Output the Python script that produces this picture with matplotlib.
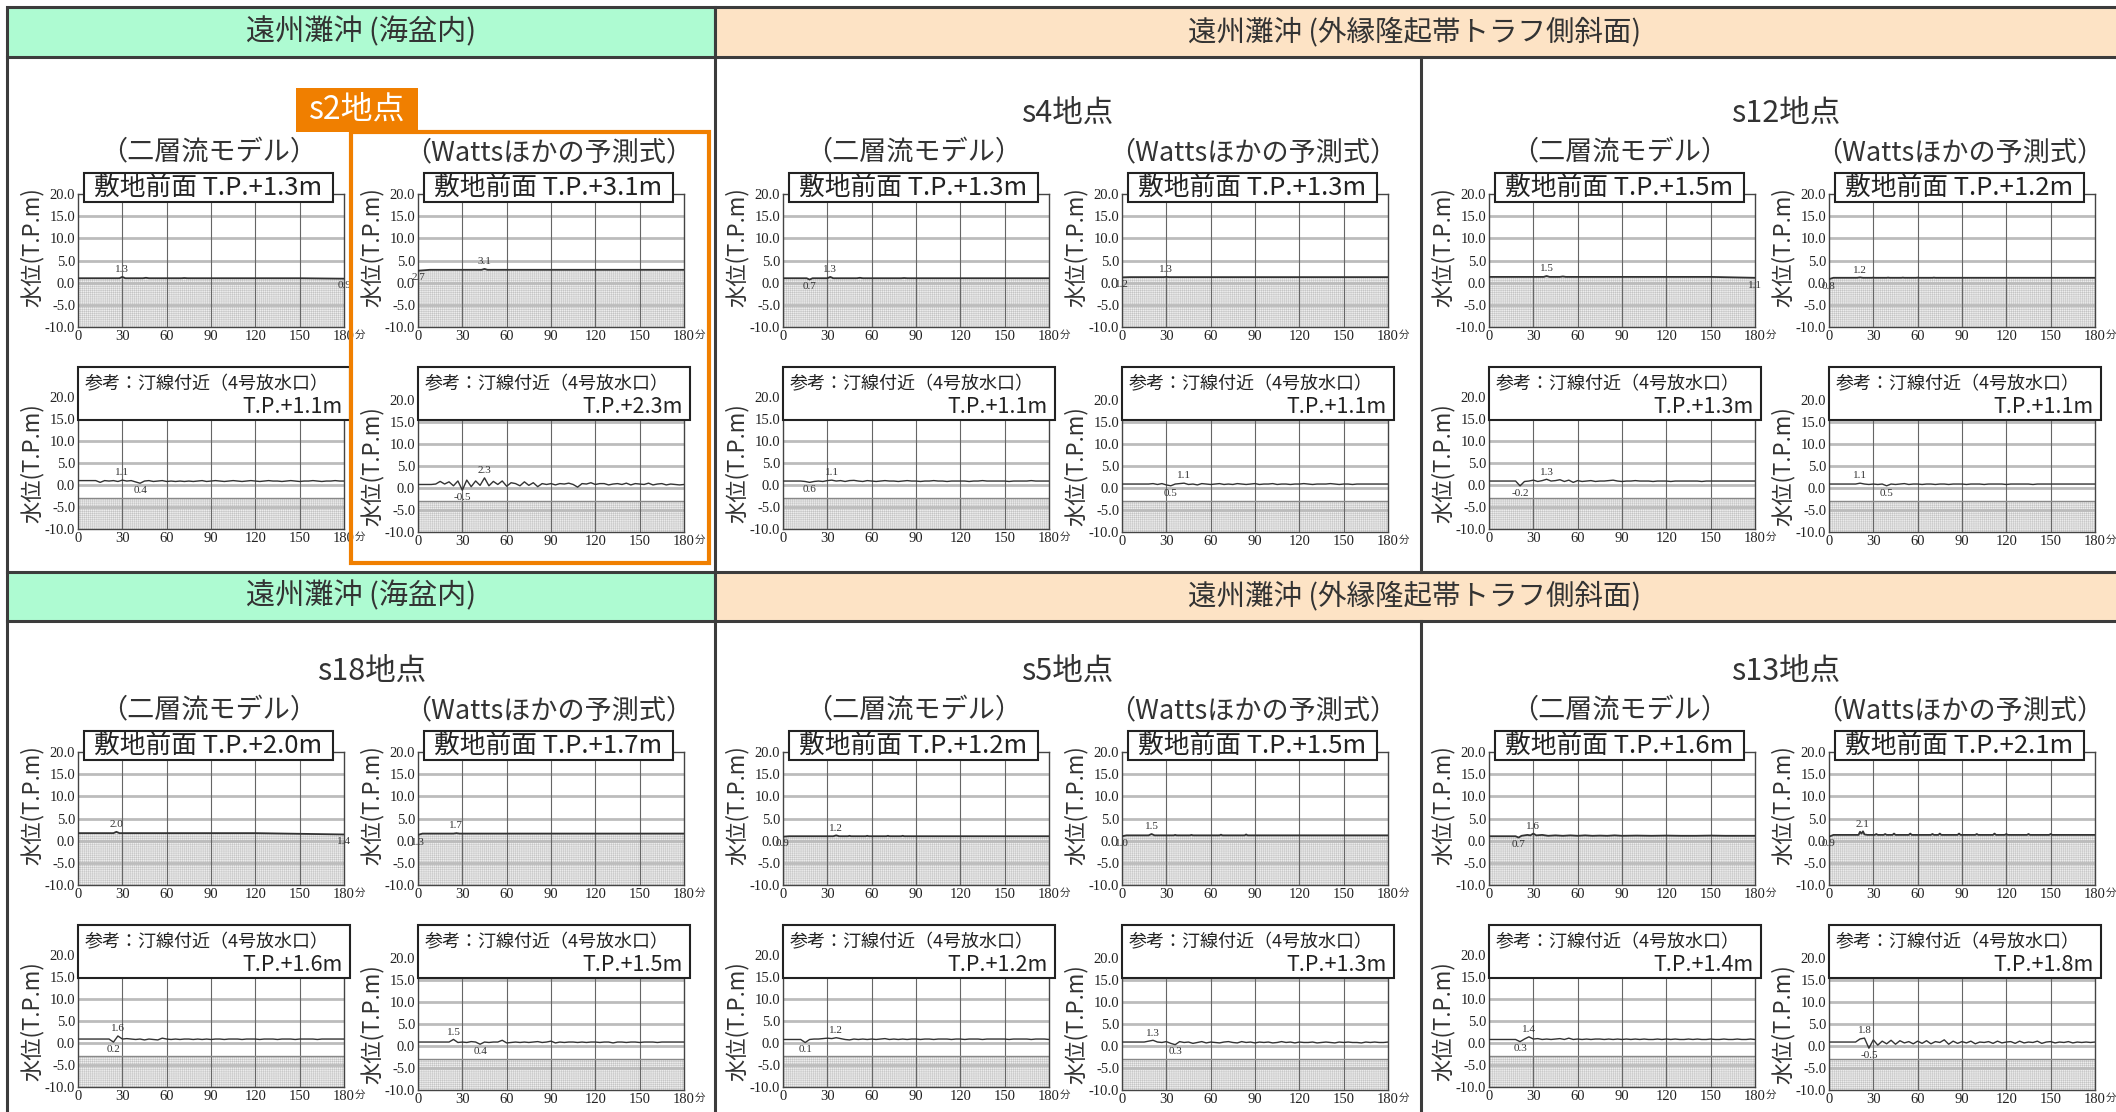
import numpy as np
import matplotlib.pyplot as plt
from matplotlib.patches import Rectangle

plt.rcParams['font.family'] = ['Noto Sans CJK JP', 'DejaVu Sans']
plt.rcParams['axes.unicode_minus'] = False
plt.rcParams['hatch.linewidth'] = 0.35

W, H = 2116, 1112

# ---- data ---------------------------------------------------------------
region_titles = ['遠州灘沖 (海盆内)', '遠州灘沖 (外縁隆起帯トラフ側斜面)']
sites = [['s2', 's4', 's12'], ['s18', 's5', 's13']]
models = ['（二層流モデル）', '（Wattsほかの予測式）']
front_name = '敷地前面'
shore_name = '参考：汀線付近（4号放水口）'

# 敷地前面 records (minutes, T.P. m)
s2_front_tl_t = [0, 20, 28, 30, 32, 44, 46, 48, 70, 72, 74, 150, 180]
s2_front_tl_v = [1.0, 1.0, 1.0, 1.3, 1.0, 1.0, 1.1, 1.0, 1.0, 1.05, 1.0, 1.0, 0.9]
s2_front_wt_t = [0, 8, 43, 45, 47, 180]
s2_front_wt_v = [2.7, 2.9, 2.9, 3.1, 2.9, 2.9]
s4_front_tl_t = [0, 16, 18, 20, 30, 32, 34, 50, 52, 54, 80, 82, 84, 180]
s4_front_tl_v = [1.0, 1.0, 0.7, 1.0, 1.0, 1.3, 1.0, 1.0, 1.1, 1.0, 1.0, 1.05, 1.0, 1.0]
s4_front_wt_t = [0, 5, 28, 30, 32, 180]
s4_front_wt_v = [1.2, 1.25, 1.25, 1.3, 1.25, 1.25]
s12_front_tl_t = [0, 37, 39, 41, 48, 50, 52, 150, 180]
s12_front_tl_v = [1.3, 1.3, 1.5, 1.3, 1.3, 1.4, 1.3, 1.3, 1.1]
s12_front_wt_t = [0, 3, 19, 21, 23, 29, 30, 31, 39, 40, 41, 49, 50, 51, 59, 60, 61, 70, 71, 72, 180]
s12_front_wt_v = [0.8, 1.1, 1.1, 1.2, 1.1, 1.1, 1.15, 1.1, 1.1, 1.15, 1.1,
                  1.1, 1.15, 1.1, 1.1, 1.15, 1.1, 1.1, 1.15, 1.1, 1.1]
s18_front_tl_t = [0, 24, 26, 28, 120, 180]
s18_front_tl_v = [1.7, 1.7, 2.0, 1.7, 1.7, 1.4]
s18_front_wt_t = [0, 3, 24, 26, 28, 180]
s18_front_wt_v = [1.3, 1.6, 1.6, 1.7, 1.6, 1.6]
s5_front_tl_t = [0, 4, 34, 36, 38, 44, 45, 46, 56, 57, 58, 70, 71, 72, 80, 81, 82, 180]
s5_front_tl_v = [0.9, 1.0, 1.0, 1.2, 1.0, 1.0, 1.1, 1.0, 1.0, 1.1, 1.0, 1.0, 1.1, 1.0, 1.0, 1.1, 1.0, 1.0]
s5_front_wt_t = [0, 3, 18, 20, 22, 35, 36, 37, 46, 47, 48, 66, 67, 68, 83, 84, 85, 180]
s5_front_wt_v = [1.0, 1.2, 1.2, 1.5, 1.2, 1.2, 1.3, 1.2, 1.2, 1.3, 1.2, 1.2, 1.35, 1.2, 1.2, 1.4, 1.2, 1.2]
s13_front_tl_t = [0, 18, 20, 22, 26, 28, 30, 32, 36, 40, 45, 50, 55, 60, 65, 70, 75,
                  80, 85, 90, 100, 110, 120, 130, 140, 150, 160, 170, 180]
s13_front_tl_v = [1.0, 1.0, 0.7, 1.1, 1.3, 1.2, 1.6, 1.2, 1.3, 1.1, 1.2, 1.1, 1.2, 1.1, 1.2,
                  1.1, 1.15, 1.1, 1.2, 1.1, 1.15, 1.1, 1.15, 1.1, 1.1, 1.15, 1.1, 1.1, 1.1]
s13_front_wt_t = [0, 3, 20, 21, 22, 23, 24, 26, 31, 32, 33, 37, 38, 39, 43, 44, 45,
                  54, 55, 56, 69, 70, 71, 74, 75, 76, 87, 88, 89, 99, 100, 101,
                  111, 112, 113, 119, 120, 121, 134, 135, 136, 149, 150, 151, 180]
s13_front_wt_v = [0.9, 1.3, 1.3, 2.0, 1.6, 2.1, 1.4, 1.3,
                  1.3, 1.5, 1.3, 1.3, 1.5, 1.3, 1.3, 1.6, 1.3,
                  1.3, 1.6, 1.3, 1.3, 1.5, 1.3, 1.3, 1.6, 1.3,
                  1.3, 1.6, 1.3, 1.3, 1.5, 1.3, 1.3, 1.6, 1.3,
                  1.3, 1.5, 1.3, 1.3, 1.5, 1.3, 1.3, 1.5, 1.3, 1.3]

# 汀線付近 records, read every 3 minutes from 0 to 180
t_shore = np.arange(0, 181, 3)
s2_shore_tl = [1.0, 1.0, 1.0, 1.0, 1.0, 0.6, 1.0, 0.9, 1.0, 0.8,
               1.1, 0.9, 1.0, 0.7, 0.4, 0.9, 1.0, 0.8, 0.9, 1.0,
               0.8, 0.9, 0.8, 0.9, 0.8, 0.9, 0.8, 0.9, 1.0, 0.8,
               0.9, 1.0, 0.9, 0.8, 0.9, 1.0, 0.9, 0.8, 0.9, 1.0,
               0.9, 0.8, 0.9, 1.0, 0.9, 0.9, 0.8, 0.9, 1.0, 0.9,
               0.8, 0.9, 0.9, 1.0, 0.9, 0.8, 0.9, 0.9, 1.0, 0.9, 0.9]
s2_shore_wt = [0.8, 0.8, 0.8, 0.8, 0.9, 1.5, 0.9, 1.4, 0.5, 1.6,
               -0.5, 1.8, 0.3, 1.6, 0.6, 2.3, 0.5, 1.5, 0.8, 1.6,
               0.4, 1.2, 1.0, 0.5, 1.4, 0.6, 1.2, 0.3, 1.0, 0.8,
               1.0, 0.7, 1.0, 0.9, 1.1, 0.8, 0.2, 1.0, 0.9, 1.2,
               0.8, 1.0, 1.0, 0.7, 0.9, 1.0, 0.8, 1.1, 0.7, 1.0,
               0.9, 0.8, 1.1, 0.7, 0.9, 1.0, 0.7, 0.9, 0.8, 0.7, 0.8]
s4_shore_tl = [0.9, 0.9, 0.9, 0.9, 0.9, 0.8, 0.6, 0.8, 0.9, 0.8,
               1.0, 1.1, 0.9, 1.0, 0.8, 1.0, 1.05, 0.9, 0.8, 1.0,
               0.9, 0.8, 0.9, 1.0, 0.9, 0.9, 0.8, 0.9, 1.0, 0.9,
               0.9, 0.8, 0.9, 0.9, 1.0, 0.9, 0.9, 0.8, 0.9, 0.9,
               0.9, 0.9, 0.8, 0.9, 0.9, 1.0, 0.9, 0.9, 0.9, 0.9,
               0.9, 0.8, 0.9, 0.9, 0.9, 0.9, 1.0, 0.9, 0.9, 0.9, 0.9]
s4_shore_wt = [0.9, 0.9, 0.9, 0.9, 0.9, 0.9, 0.9, 1.0, 0.8, 1.0,
               0.7, 0.5, 0.9, 1.0, 1.1, 0.8, 0.9, 0.7, 1.0, 0.9,
               0.8, 0.9, 1.0, 0.8, 0.9, 0.8, 1.0, 0.9, 0.8, 0.9,
               1.0, 0.8, 0.9, 0.9, 1.0, 0.8, 0.9, 0.9, 0.8, 0.9,
               0.9, 1.0, 0.9, 0.8, 0.9, 0.9, 0.9, 1.0, 0.9, 0.8,
               0.9, 0.9, 0.8, 0.9, 0.9, 0.9, 0.9, 0.9, 0.9, 0.9, 0.9]
s12_shore_tl = [0.9, 0.9, 0.9, 0.9, 0.9, 0.9, 0.9, -0.2, 0.8, 0.9,
                1.1, 0.8, 1.0, 1.3, 0.9, 1.0, 1.2, 0.8, 1.1, 0.6,
                1.0, 0.8, 0.9, 1.0, 0.8, 0.9, 0.9, 1.0, 1.1, 0.9,
                0.8, 0.9, 0.9, 1.0, 0.9, 0.9, 0.9, 0.8, 0.9, 0.9,
                0.9, 0.8, 0.9, 0.9, 0.9, 0.9, 0.9, 0.9, 0.8, 0.9,
                0.9, 0.9, 0.9, 0.9, 0.9, 0.9, 0.9, 0.9, 0.9, 0.9, 0.9]
s12_shore_wt = [0.9, 0.9, 0.9, 0.9, 0.9, 0.9, 0.9, 1.1, 0.9, 0.8,
                0.9, 0.8, 0.9, 0.5, 0.9, 0.8, 0.9, 1.0, 0.8, 0.9,
                0.9, 0.8, 0.9, 0.9, 0.8, 0.9, 0.9, 0.8, 0.9, 0.9,
                0.9, 0.8, 0.9, 0.9, 0.9, 0.8, 0.9, 0.9, 0.9, 0.9,
                0.8, 0.9, 0.9, 0.9, 0.9, 0.9, 0.8, 0.9, 0.9, 0.9,
                0.9, 0.9, 0.9, 0.9, 0.9, 0.9, 0.9, 0.9, 0.9, 0.9, 0.9]
s18_shore_tl = [0.9, 0.9, 0.9, 0.9, 0.9, 0.9, 0.9, 0.9, 0.2, 1.6,
                0.9, 1.0, 0.9, 0.8, 0.9, 0.7, 0.9, 0.8, 0.7, 1.1,
                0.9, 0.8, 0.9, 0.8, 0.9, 0.9, 0.8, 0.9, 0.8, 0.9,
                0.8, 0.9, 0.9, 0.8, 0.9, 0.9, 0.9, 0.8, 0.9, 0.9,
                0.9, 0.8, 0.9, 0.9, 0.9, 0.8, 0.9, 0.9, 0.9, 0.8,
                0.9, 0.9, 0.9, 0.9, 0.8, 0.9, 0.9, 0.9, 0.9, 0.9, 0.9]
s18_shore_wt = [0.9, 0.9, 0.9, 0.9, 0.9, 0.9, 0.9, 0.9, 1.5, 0.8,
                0.9, 0.8, 1.0, 0.9, 0.4, 0.9, 0.8, 0.9, 0.9, 1.3,
                0.7, 0.8, 0.9, 0.8, 0.9, 0.8, 0.9, 1.0, 0.8, 0.9,
                1.1, 0.7, 0.9, 0.8, 0.9, 0.9, 0.8, 0.9, 0.8, 0.9,
                0.9, 0.8, 0.9, 0.9, 0.7, 0.9, 0.9, 0.8, 0.9, 0.9,
                0.8, 0.9, 0.9, 0.9, 0.8, 0.9, 0.9, 0.9, 0.9, 0.9, 0.9]
s5_shore_tl = [0.8, 0.8, 0.8, 0.8, 0.8, 0.1, 0.8, 0.9, 0.9, 1.0,
               1.1, 1.0, 1.2, 1.0, 0.8, 0.7, 0.9, 0.8, 0.9, 0.8,
               0.9, 0.8, 0.9, 1.0, 0.8, 0.9, 0.8, 0.9, 0.8, 0.9,
               0.9, 0.8, 0.9, 0.9, 0.8, 0.9, 0.9, 0.9, 0.8, 0.9,
               0.9, 0.8, 0.9, 0.9, 0.9, 0.8, 0.9, 0.9, 0.9, 0.9,
               0.9, 0.8, 0.9, 0.9, 0.9, 0.9, 0.8, 0.9, 0.9, 0.9, 0.8]
s5_shore_wt = [0.9, 0.9, 0.9, 0.9, 0.9, 0.9, 1.1, 1.3, 0.9, 0.8,
               1.0, 0.6, 0.3, 1.0, 0.8, 0.9, 0.6, 0.8, 1.0, 0.7,
               0.9, 0.8, 0.7, 0.9, 1.0, 0.8, 0.7, 1.0, 0.8, 0.9,
               0.7, 0.9, 0.8, 0.9, 0.7, 0.8, 1.0, 0.8, 0.9, 0.7,
               0.9, 0.8, 0.8, 0.9, 0.7, 0.8, 0.9, 0.8, 0.7, 0.9,
               0.8, 0.9, 0.8, 0.8, 0.7, 0.9, 0.8, 0.9, 0.8, 0.8, 0.9]
s13_shore_tl = [0.8, 0.8, 0.8, 0.8, 0.8, 0.8, 0.8, 0.3, 0.9, 1.4,
                0.9, 1.0, 0.8, 0.9, 0.8, 0.9, 1.0, 0.8, 1.1, 0.8,
                0.9, 0.8, 0.9, 0.8, 0.9, 0.9, 0.8, 0.9, 0.8, 0.9,
                0.8, 0.9, 0.8, 0.9, 0.8, 0.9, 0.8, 0.8, 0.9, 0.8,
                0.9, 0.8, 0.9, 0.8, 0.8, 0.9, 0.8, 0.9, 0.8, 0.8,
                0.9, 0.8, 0.8, 0.9, 0.8, 0.8, 0.9, 0.8, 0.8, 0.9, 0.8]
s13_shore_wt = [0.9, 0.9, 0.9, 0.9, 0.9, 0.9, 0.9, 1.6, 1.8, -0.5,
                1.4, 0.2, 1.1, 0.5, 1.3, 0.4, 1.2, 0.7, 1.0, 0.5,
                1.1, 0.6, 1.2, 0.5, 1.0, 0.8, 1.4, 0.4, 1.1, 0.6,
                1.0, 0.7, 1.1, 0.5, 0.9, 0.8, 1.0, 0.6, 1.1, 0.7,
                0.9, 1.0, 0.6, 1.1, 0.7, 0.9, 0.8, 1.1, 0.6, 0.9,
                1.0, 0.7, 0.9, 0.8, 1.0, 0.7, 0.9, 0.8, 0.9, 0.8, 0.9]

shore_floor = -3.0  # top of hatched zone in the shoreline plots

front = {
    's2': [(s2_front_tl_t, s2_front_tl_v), (s2_front_wt_t, s2_front_wt_v)],
    's4': [(s4_front_tl_t, s4_front_tl_v), (s4_front_wt_t, s4_front_wt_v)],
    's12': [(s12_front_tl_t, s12_front_tl_v), (s12_front_wt_t, s12_front_wt_v)],
    's18': [(s18_front_tl_t, s18_front_tl_v), (s18_front_wt_t, s18_front_wt_v)],
    's5': [(s5_front_tl_t, s5_front_tl_v), (s5_front_wt_t, s5_front_wt_v)],
    's13': [(s13_front_tl_t, s13_front_tl_v), (s13_front_wt_t, s13_front_wt_v)],
}
shore = {
    's2': [s2_shore_tl, s2_shore_wt], 's4': [s4_shore_tl, s4_shore_wt],
    's12': [s12_shore_tl, s12_shore_wt], 's18': [s18_shore_tl, s18_shore_wt],
    's5': [s5_shore_tl, s5_shore_wt], 's13': [s13_shore_tl, s13_shore_wt],
}

# ---- layout (pixels) -----------------------------------------------------
col_left = [[78, 418], [783, 1122], [1489, 1829]]
ax_w = 266
row_dy = [0, 558]
header_y = [(7, 57), (572, 621)]
group_cx = [372, 1067, 1786]
LINE = '#3c3c3c'
SERIF = 'Liberation Serif'
ORANGE = '#f07f00'
SHADE = '#ededed'
HATCH = '#c4c4c4'


def px(x0, y0, x1, y1):
    return [x0 / W, 1 - y1 / H, (x1 - x0) / W, (y1 - y0) / H]


fig = plt.figure(figsize=(W / 100, H / 100), dpi=100)
bg = fig.add_axes([0, 0, 1, 1])
bg.set_xlim(0, W)
bg.set_ylim(H, 0)
bg.axis('off')

# region headers and frame
for r in range(2):
    y0, y1 = header_y[r]
    bg.add_patch(Rectangle((7, y0), 708, y1 - y0, facecolor='#aefbd2', edgecolor=LINE, lw=2.2))
    bg.add_patch(Rectangle((715, y0), W, y1 - y0, facecolor='#fde3c5', edgecolor=LINE, lw=2.2))
    bg.text(361, (y0 + y1) / 2, region_titles[0], ha='center', va='center', fontsize=21, color='#333333')
    bg.text(1415, (y0 + y1) / 2, region_titles[1], ha='center', va='center', fontsize=20.5, color='#333333')
    body_bot = 572 if r == 0 else H
    for x in (7, 715, 1421):
        bg.plot([x, x], [y1, body_bot], color=LINE, lw=2.2)


def style_axes(ax):
    ax.set_xlim(0, 180)
    ax.set_ylim(-10, 20)
    ax.set_xticks(range(0, 181, 30))
    ax.set_xticklabels([str(v) for v in range(0, 181, 30)], fontfamily=SERIF, fontsize=10.5)
    ax.set_yticks(range(-10, 21, 5))
    ax.set_yticklabels(['%.1f' % v for v in range(-10, 21, 5)], fontfamily=SERIF, fontsize=10.5)
    ax.tick_params(length=0, pad=2, colors='#222222')
    for sp in ax.spines.values():
        sp.set_color('#444444')
        sp.set_linewidth(1.0)
    for y in (-5, 0, 5, 10, 15):
        ax.axhline(y, color='#bcbcbc', lw=2.0, zorder=1.5)
    for x in (30, 60, 90, 120, 150):
        ax.axvline(x, color='#666666', lw=0.8, zorder=1.6)
    ax.annotate('分', xy=(1, 0), xycoords='axes fraction', xytext=(16, -8),
                textcoords='offset pixels', fontsize=7.5, ha='center', va='center', color='#333333')


def mark_extremes(ax, t, v):
    v = np.asarray(v)
    i, j = int(np.argmax(v)), int(np.argmin(v))
    ax.annotate('%.1f' % v[i], xy=(t[i], v[i]), xytext=(0, 2), textcoords='offset points',
                ha='center', va='bottom', fontsize=8, fontfamily=SERIF, color='#333333',
                annotation_clip=False)
    ax.annotate('%.1f' % v[j], xy=(t[j], v[j]), xytext=(0, -2), textcoords='offset points',
                ha='center', va='top', fontsize=8, fontfamily=SERIF, color='#333333',
                annotation_clip=False)
    return v[i]


boxes = []  # drawn on top afterwards
for r in range(2):
    dy = row_dy[r]
    for g in range(3):
        site = sites[r][g]
        for c in range(2):
            left = col_left[g][c]
            # 敷地前面
            t, v = front[site][c]
            ax = fig.add_axes(px(left, 194 + dy, left + ax_w, 327 + dy))
            style_axes(ax)
            ax.fill_between(t, -10, v, facecolor=SHADE, hatch='++++++++', edgecolor=HATCH,
                            lw=0, zorder=1)
            ax.plot(t, v, color='#333333', lw=1.3, zorder=3)
            vmax = mark_extremes(ax, t, v)
            boxes.append(('front', left, dy, vmax))
            bg.text(left - 46, 247 + dy, '水位(T.P.m)', rotation=90, ha='center', va='center',
                    fontsize=16, color='#333333')
            # 汀線付近
            v2 = shore[site][c]
            off = 3 if c == 1 else 0
            ax2 = fig.add_axes(px(left, 397 + dy + off, left + ax_w, 529 + dy + off))
            style_axes(ax2)
            ax2.fill_between([0, 180], -10, shore_floor, facecolor=SHADE, hatch='++++++++',
                             edgecolor=HATCH, lw=0, zorder=1)
            ax2.axhline(shore_floor, color='#888888', lw=1.0, zorder=1.7)
            ax2.plot(t_shore, v2, color='#333333', lw=1.0, zorder=3)
            vmax2 = mark_extremes(ax2, t_shore, v2)
            boxes.append(('shore', left, dy, vmax2))
            bg.text(left - 46, 463 + dy + off, '水位(T.P.m)', rotation=90, ha='center', va='center',
                    fontsize=16, color='#333333')
            # model subtitle
            bg.text(left + ax_w / 2 - 2, 153 + dy, models[c], ha='center', va='center',
                    fontsize=19.5, color='#333333')
        if not (r == 0 and g == 0):
            bg.text(group_cx[g], 113 + dy, site + '地点', ha='center', va='center',
                    fontsize=22, color='#333333')

fg = fig.add_axes([0, 0, 1, 1])
fg.set_xlim(0, W)
fg.set_ylim(H, 0)
fg.axis('off')
fg.patch.set_alpha(0)

for kind, left, dy, vmax in boxes:
    if kind == 'front':
        fg.add_patch(Rectangle((left + 6, 173 + dy), 249, 29, facecolor='white',
                               edgecolor='#222222', lw=1.5))
        fg.text(left + 130, 188 + dy, '%s T.P.+%.1fm' % (front_name, vmax), ha='center',
                va='center', fontsize=18.5, color='#222222')
    else:
        fg.add_patch(Rectangle((left, 367 + dy), 272, 53, facecolor='white',
                               edgecolor='#222222', lw=1.5))
        fg.text(left + 7, 384 + dy, shore_name, ha='left', va='center', fontsize=13,
                color='#222222')
        fg.text(left + 265, 407 + dy, 'T.P.+%.1fm' % vmax, ha='right', va='center',
                fontsize=15.5, color='#222222')

# s2 highlight
fg.add_patch(Rectangle((351, 132), 358, 431, facecolor='none', edgecolor=ORANGE, lw=3))
fg.add_patch(Rectangle((296, 88), 122, 44, facecolor=ORANGE, edgecolor='none'))
fg.text(357, 110, 's2地点', ha='center', va='center', fontsize=23, color='white')

fig.savefig('out.png', dpi=100)
